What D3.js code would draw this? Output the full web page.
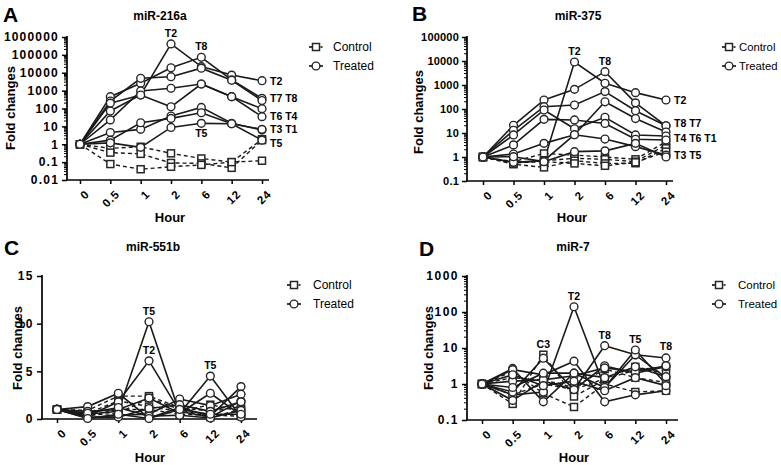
<!DOCTYPE html>
<html>
<head>
<meta charset="utf-8">
<script src="https://cdn.jsdelivr.net/npm/d3@7"></script>
<style>
html,body{margin:0;padding:0;background:#fff;}
svg{display:block;font-family:"Liberation Sans",Arial,sans-serif;}
</style>
</head>
<body>
<svg id="chart" width="781" height="465"></svg>
<script>
// ---------- DATA ----------
const hours = ["0", "0.5", "1", "2", "6", "12", "24"];

// Panel A: miR-216a
const a216Treated = [
  [1, 73, 570, 410000, 22000, 7400, 3600],   // T2
  [1, 460, 2600, 19000, 73000, 4000, 370],   // T8
  [1, 263, 4900, 6000, 18000, 3800, 280],    // T7
  [1, 23, 960, 1350, 2350, 460, 98],         // T6
  [1, 200, 570, 125, 2350, 460, 35],         // T4
  [1, 4.5, 6.8, 38, 115, 15, 6.2],           // T1
  [1, 1.7, 16, 28, 58, 14, 6.8],             // T3
  [1, 1.2, 0.67, 8.7, 14.8, 14, 1.7]         // T5
];
const a216Control = [
  [1, 0.59, 0.72, 0.31, 0.16, 0.1, 1.9],
  [1, 0.34, 0.29, 0.09, 0.085, 0.048, 1.7],
  [1, 0.078, 0.04, 0.055, 0.07, 0.1, 0.12]
];
const a216Labels = [
  {text: "T2", hour: "2", value: 410000, pos: "above"},
  {text: "T8", hour: "6", value: 73000, pos: "above"},
  {text: "T5", hour: "6", value: 14.8, pos: "below"},
  {text: "T2", hour: "24", value: 3500, pos: "right"},
  {text: "T7 T8", hour: "24", value: 385, pos: "right"},
  {text: "T6 T4", hour: "24", value: 38, pos: "right"},
  {text: "T3 T1", hour: "24", value: 7, pos: "right"},
  {text: "T5", hour: "24", value: 1.2, pos: "right"}
];
const a216Ticks = [0.01, 0.1, 1, 10, 100, 1000, 10000, 100000, 1000000];

// Panel B: miR-375
const b375Treated = [
  [1, 0.6, 0.7, 9100, 1180, 480, 237],       // T2
  [1, 21, 237, 660, 3600, 180, 20],          // T8
  [1, 13, 125, 146, 530, 85, 20],            // T7
  [1, 0.6, 0.7, 8.5, 200, 40, 11],           // T4
  [1, 8.3, 91, 15, 45, 8.3, 7.5],            // T6
  [1, 3.2, 37, 35, 25, 5.5, 5.1],            // T1
  [1, 1.33, 3.7, 8.5, 5.6, 2.7, 1.2],        // T3
  [1, 1.03, 0.64, 1.67, 1.8, 3.7, 1.0]       // T5
];
const b375Control = [
  [1, 0.64, 1.4, 1.2, 1.0, 0.8, 4.3],
  [1, 0.55, 0.7, 0.88, 0.8, 0.64, 3.2],
  [1, 0.5, 0.37, 0.7, 0.54, 0.55, 2.3],
  [1, 0.6, 0.64, 0.54, 0.43, 0.6, 1.67]
];
const b375Labels = [
  {text: "T2", hour: "2", value: 9100, pos: "above"},
  {text: "T8", hour: "6", value: 3600, pos: "above"},
  {text: "T2", hour: "24", value: 237, pos: "right"},
  {text: "T8 T7", hour: "24", value: 26, pos: "right"},
  {text: "T4 T6 T1", hour: "24", value: 6.2, pos: "right"},
  {text: "T3 T5", hour: "24", value: 1.2, pos: "right"}
];
const b375Ticks = [0.1, 1, 10, 100, 1000, 10000, 100000];

// Panel C: miR-551b
const c551Treated = [
  [1, 1.3, 2.7, 0.1, 1.2, 0.3, 3.4],
  [1, 0.3, 1.8, 6.1, 0.8, 0.2, 1.9],         // T2
  [1, 0.8, 1.0, 2.2, 0.6, 2.7, 0.4],
  [1, 0.1, 0.4, 0.5, 2.1, 1.4, 2.6],
  [1, 0.5, 0.8, 10.2, 0.6, 4.5, 0.2],        // T5
  [1, 0.2, 0.2, 1.1, 1.5, 0.8, 1.8],
  [1, 0.6, 1.2, 0.3, 0.4, 0.1, 0.9],
  [1, 0.05, 0.5, 0.05, 1.0, 0.5, 0.5]
];
const c551Control = [
  [1, 0.9, 2.4, 2.4, 1.2, 0.8, 1.3],
  [1, 0.6, 1.9, 1.3, 0.8, 1.5, 0.8],
  [1, 0.3, 1.0, 1.0, 0.5, 0.4, 0.3],
  [1, 0.4, 0.6, 2.2, 1.0, 0.2, 1.0]
];
const c551Labels = [
  {text: "T5", hour: "2", value: 10.2, pos: "above"},
  {text: "T2", hour: "2", value: 6.1, pos: "above"},
  {text: "T5", hour: "12", value: 4.5, pos: "above"}
];
const c551Ticks = [0, 5, 10, 15];

// Panel D: miR-7
const d7Treated = [
  [1, 0.5, 0.6, 140, 0.8, 6.4, 1.5],         // T2
  [1, 0.35, 1.2, 0.7, 11.6, 6.5, 5.3],       // T8
  [1, 2.7, 0.32, 2.0, 0.8, 8.8, 1.0],        // T5
  [1, 0.6, 5.2, 0.7, 3.2, 2.0, 3.0],
  [1, 2.5, 1.8, 4.3, 0.32, 0.5, 0.65],
  [1, 1.2, 1.3, 1.7, 2.8, 2.2, 3.2],
  [1, 0.8, 2.0, 2.0, 1.5, 3.0, 1.6],
  [1, 1.8, 0.9, 1.2, 0.65, 1.5, 0.9]
];
const d7Control = [
  [1, 0.28, 6.5, 0.45, 1.3, 2.5, 3.0],       // C3
  [1, 2.2, 0.55, 0.23, 1.0, 0.6, 0.65],
  [1, 0.5, 1.0, 0.7, 1.4, 3.0, 2.0],
  [1, 1.5, 1.3, 0.8, 2.6, 1.5, 1.1]
];
const d7Labels = [
  {text: "C3", hour: "1", value: 6.5, pos: "above"},
  {text: "T2", hour: "2", value: 140, pos: "above"},
  {text: "T8", hour: "6", value: 11.6, pos: "above"},
  {text: "T5", hour: "12", value: 8.8, pos: "above"},
  {text: "T8", hour: "24", value: 5.5, pos: "above"}
];
const d7Ticks = [0.1, 1, 10, 100, 1000];

// ---------- DRAWING ----------
const svg = d3.select("#chart");
const INK = "#1a1a1a";
const MARK = "#262626";

function fmt(v) { return String(v); }

function drawPanel(cfg) {
  const g = svg.append("g");
  const x = d3.scalePoint().domain(hours).range(cfg.catRange);
  const y = cfg.log
    ? d3.scaleLog().domain(cfg.domain).range([cfg.yBot, cfg.yTop])
    : d3.scaleLinear().domain(cfg.domain).range([cfg.yBot, cfg.yTop]);

  // panel letter, title
  g.append("text").attr("x", cfg.letter[1]).attr("y", cfg.letter[2])
    .attr("font-size", 21).attr("font-weight", "bold").text(cfg.letter[0]);
  g.append("text").attr("x", cfg.title[1]).attr("y", cfg.title[2])
    .attr("text-anchor", "middle").attr("font-size", 12).attr("font-weight", "bold")
    .text(cfg.title[0]);

  // y axis
  const yAxis = d3.axisLeft(y).tickValues(cfg.ticks).tickFormat(fmt).tickSize(5).tickPadding(3);
  const ya = g.append("g").attr("transform", `translate(${cfg.x0},0)`).call(yAxis);
  ya.select(".domain").attr("stroke", "#000").attr("stroke-width", 1.7)
    .attr("d", `M0,${cfg.yTop - 1}V${cfg.yBot}`);
  ya.selectAll(".tick line").attr("stroke", "#000").attr("stroke-width", 1.5);
  ya.selectAll(".tick text").attr("font-size", cfg.tickFont).attr("font-weight", "bold")
    .attr("font-family", "Liberation Sans, Arial, sans-serif")
    .attr("letter-spacing", cfg.tickSpacing).attr("fill", "#000");
  if (cfg.log) {
    const minors = [];
    const lo = Math.log10(cfg.domain[0]), hi = Math.log10(cfg.domain[1]);
    for (let e = lo; e < hi; e++) {
      for (let m = 2; m <= 9; m++) minors.push(m * Math.pow(10, e));
    }
    g.append("g").selectAll("line").data(minors).join("line")
      .attr("x1", cfg.x0 - 3).attr("x2", cfg.x0)
      .attr("y1", d => y(d)).attr("y2", d => y(d))
      .attr("stroke", "#000").attr("stroke-width", 1);
  }

  // x axis
  const xAxis = d3.axisBottom(x).tickSize(4).tickFormat(d => d);
  const xa = g.append("g").attr("transform", `translate(0,${cfg.yBot})`).call(xAxis);
  xa.select(".domain").attr("stroke", "#000").attr("stroke-width", 1.7)
    .attr("d", `M${cfg.x0 - 0.8},0H${cfg.xEnd}`);
  xa.selectAll(".tick line").attr("stroke", "#000").attr("stroke-width", 1.5);
  xa.selectAll(".tick text").attr("font-size", 11.5).attr("font-weight", "bold")
    .attr("letter-spacing", 1).attr("fill", "#000")
    .attr("text-anchor", "end").attr("dy", null).attr("y", 0)
    .attr("transform", "translate(4,9) rotate(-45)")
    .attr("dominant-baseline", "hanging");

  // axis titles
  g.append("text")
    .attr("transform", `translate(${cfg.yLabel[0]},${cfg.yLabel[1]}) rotate(-90)`)
    .attr("text-anchor", "middle").attr("font-size", 13).attr("font-weight", "bold")
    .text("Fold changes");
  g.append("text").attr("x", cfg.xLabel[0]).attr("y", cfg.xLabel[1])
    .attr("text-anchor", "middle").attr("font-size", 13).attr("font-weight", "bold")
    .text("Hour");

  const line = d3.line().x((d, i) => x(hours[i])).y(d => y(d));
  const sq = 7;

  // controls
  cfg.control.forEach(s => {
    g.append("path").attr("d", line(s)).attr("fill", "none")
      .attr("stroke", INK).attr("stroke-width", 1.4).attr("stroke-dasharray", "4,3");
  });
  // treated lines
  cfg.treated.forEach(s => {
    g.append("path").attr("d", line(s)).attr("fill", "none")
      .attr("stroke", INK).attr("stroke-width", 1.6);
  });
  // markers
  cfg.control.forEach(s => {
    g.append("g").selectAll("rect").data(s).join("rect")
      .attr("x", (d, i) => x(hours[i]) - sq / 2).attr("y", d => y(d) - sq / 2)
      .attr("width", sq).attr("height", sq)
      .attr("fill", "#fff").attr("stroke", MARK).attr("stroke-width", 1.5);
  });
  cfg.treated.forEach(s => {
    g.append("g").selectAll("circle").data(s).join("circle")
      .attr("cx", (d, i) => x(hours[i])).attr("cy", d => y(d)).attr("r", 3.9)
      .attr("fill", "#fff").attr("stroke", MARK).attr("stroke-width", 1.4);
  });

  // annotations
  cfg.labels.forEach(l => {
    const px = x(l.hour), py = y(l.value);
    const t = g.append("text").attr("font-size", 10.5).attr("font-weight", "bold").text(l.text);
    if (l.pos === "above") t.attr("x", px).attr("y", py - 7).attr("text-anchor", "middle");
    else if (l.pos === "below") t.attr("x", px).attr("y", py + 14).attr("text-anchor", "middle");
    else t.attr("x", px + 8).attr("y", py + 4).attr("text-anchor", "start");
  });

  // legend
  const lg = g.append("g");
  const [lx, ly] = cfg.legend;
  // Control
  lg.append("line").attr("x1", lx - 7).attr("x2", lx - 3.5).attr("y1", ly).attr("y2", ly)
    .attr("stroke", INK).attr("stroke-width", 1.7);
  lg.append("line").attr("x1", lx + 4.5).attr("x2", lx + 6.5).attr("y1", ly).attr("y2", ly)
    .attr("stroke", INK).attr("stroke-width", 1.7);
  lg.append("rect").attr("x", lx - 3.5).attr("y", ly - 3.5).attr("width", 7).attr("height", 7)
    .attr("fill", "#fff").attr("stroke", MARK).attr("stroke-width", 1.5);
  lg.append("text").attr("x", cfg.legendText).attr("y", ly + 4).attr("font-size", cfg.legendFont).text("Control");
  // Treated
  lg.append("line").attr("x1", lx - 7).attr("x2", lx + 7).attr("y1", ly + 19).attr("y2", ly + 19)
    .attr("stroke", INK).attr("stroke-width", 1.7);
  lg.append("circle").attr("cx", lx).attr("cy", ly + 19).attr("r", 3.9)
    .attr("fill", "#fff").attr("stroke", MARK).attr("stroke-width", 1.4);
  lg.append("text").attr("x", cfg.legendText).attr("y", ly + 23).attr("font-size", cfg.legendFont).text("Treated");
}

drawPanel({
  log: true, domain: [0.01, 1000000], ticks: a216Ticks,
  x0: 67, xEnd: 269, catRange: [80, 262], yTop: 37, yBot: 180,
  tickFont: 12, tickSpacing: 1.2,
  letter: ["A", 3, 22], title: ["miR-216a", 160, 20],
  yLabel: [15, 108], xLabel: [170, 222],
  legend: [316, 47], legendText: 333, legendFont: 12,
  treated: a216Treated, control: a216Control, labels: a216Labels
});
drawPanel({
  log: true, domain: [0.1, 100000], ticks: b375Ticks,
  x0: 467, xEnd: 673, catRange: [483, 666], yTop: 37, yBot: 181,
  tickFont: 11, tickSpacing: 0.2,
  letter: ["B", 412, 21], title: ["miR-375", 578, 20],
  yLabel: [423, 112], xLabel: [572, 222],
  legend: [729, 47], legendText: 739, legendFont: 11.3,
  treated: b375Treated, control: b375Control, labels: b375Labels
});
drawPanel({
  log: false, domain: [0, 15], ticks: c551Ticks,
  x0: 42, xEnd: 257, catRange: [57, 241], yTop: 276, yBot: 419,
  tickFont: 12, tickSpacing: 1.5,
  letter: ["C", 4, 255], title: ["miR-551b", 153, 251],
  yLabel: [22, 348], xLabel: [150, 462],
  legend: [294, 285], legendText: 313, legendFont: 12,
  treated: c551Treated, control: c551Control, labels: c551Labels
});
drawPanel({
  log: true, domain: [0.1, 1000], ticks: d7Ticks,
  x0: 467, xEnd: 678, catRange: [482, 666], yTop: 276, yBot: 420,
  tickFont: 12, tickSpacing: 1.5,
  letter: ["D", 419, 256], title: ["miR-7", 573, 251],
  yLabel: [433, 348], xLabel: [574, 462],
  legend: [719, 285], legendText: 738, legendFont: 11.5,
  treated: d7Treated, control: d7Control, labels: d7Labels
});
</script>
</body>
</html>
